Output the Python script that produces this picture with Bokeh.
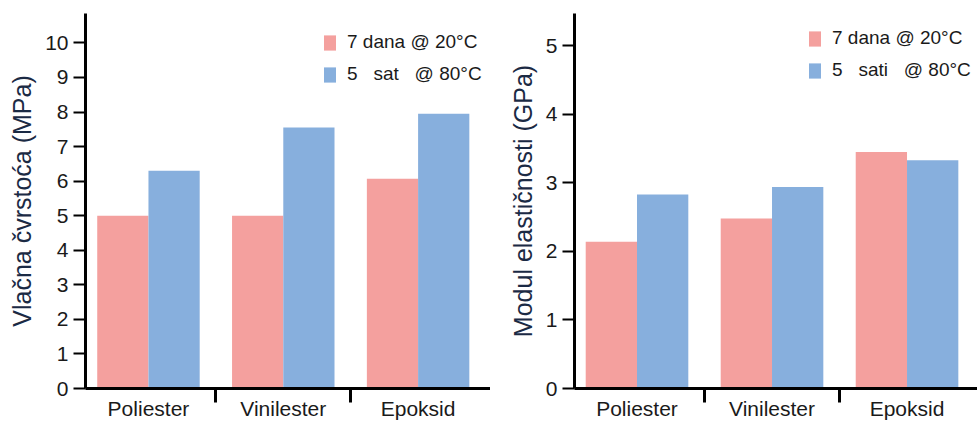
from bokeh.plotting import figure
from bokeh.layouts import row
from bokeh.models import ColumnDataSource, FixedTicker, Range1d, Legend, LegendItem
from bokeh.transform import dodge
from bokeh.embed import file_html
from bokeh.resources import INLINE

# ---- data ----
categories = ["Poliester", "Vinilester", "Epoksid"]
strength_7d = [5.0, 5.0, 6.07]
strength_5h = [6.3, 7.55, 7.95]
modulus_7d = [2.14, 2.48, 3.45]
modulus_5h = [2.83, 2.94, 3.33]
strength_ticks = list(range(0, 11))
modulus_ticks = list(range(0, 6))
legend_left = ["7 dana @ 20°C", "5\u00a0\u00a0\u00a0sat\u00a0\u00a0\u00a0@ 80°C"]
legend_right = ["7 dana @ 20°C", "5\u00a0\u00a0\u00a0sati\u00a0\u00a0\u00a0@ 80°C"]
y_label_left = "Vlačna čvrstoća (MPa)"
y_label_right = "Modul elastičnosti (GPa)"

RED = "#f4a09e"
BLUE = "#87afdd"
FONT = "Liberation Sans"
TXT = "#1a1a1a"


def make(vals_a, vals_b, yticks, ymax, ylabel, labels, width, border_left,
         xr, legend_loc):
    idx = list(range(len(categories)))
    src = ColumnDataSource(dict(x=idx, a=vals_a, b=vals_b))
    p = figure(width=width, height=422, x_range=Range1d(*xr), y_range=Range1d(0, ymax),
               output_backend="svg", toolbar_location=None,
               min_border_left=border_left, min_border_right=0, min_border_top=13,
               min_border_bottom=0)
    p.xgrid.visible = False
    p.ygrid.visible = False
    p.outline_line_color = None
    p.background_fill_color = "white"
    p.border_fill_color = "white"

    r1 = p.vbar(x=dodge("x", -0.19), top="a", width=0.38, source=src,
                fill_color=RED, line_color=None)
    r2 = p.vbar(x=dodge("x", 0.19), top="b", width=0.38, source=src,
                fill_color=BLUE, line_color=None)

    xa = p.xaxis[0]
    xa.ticker = FixedTicker(ticks=idx, minor_ticks=[i + 0.5 for i in idx[:-1]])
    xa.major_label_overrides = {i: c for i, c in zip(idx, categories)}
    xa.major_tick_out = 0
    xa.major_tick_in = 0
    xa.minor_tick_in = 0
    xa.minor_tick_out = 14
    xa.minor_tick_line_width = 3
    xa.minor_tick_line_color = "black"
    xa.axis_line_width = 3
    xa.axis_line_color = "black"
    xa.major_label_text_font = FONT
    xa.major_label_text_font_size = "21px"
    xa.major_label_text_color = TXT
    xa.major_label_standoff = -6

    ya = p.yaxis[0]
    ya.ticker = FixedTicker(ticks=yticks)
    ya.major_tick_out = 12
    ya.major_tick_in = 0
    ya.major_tick_line_width = 2
    ya.major_tick_line_color = "black"
    ya.minor_tick_out = 0
    ya.minor_tick_in = 0
    ya.axis_line_width = 3
    ya.axis_line_color = "black"
    ya.major_label_text_font = FONT
    ya.major_label_text_font_size = "21px"
    ya.major_label_text_color = TXT
    ya.major_label_standoff = 5
    ya.axis_label = ylabel
    ya.axis_label_text_font = FONT
    ya.axis_label_text_font_size = "25px"
    ya.axis_label_text_font_style = "normal"
    ya.axis_label_text_color = "#1b2a44"
    ya.axis_label_standoff = 6

    legend = Legend(items=[LegendItem(label=labels[0], renderers=[r1]),
                           LegendItem(label=labels[1], renderers=[r2])],
                    location=legend_loc, padding=0, margin=0, spacing=10,
                    glyph_width=15, glyph_height=19, label_height=19,
                    label_standoff=10, border_line_color=None,
                    background_fill_alpha=0,
                    label_text_font=FONT, label_text_font_size="19px",
                    label_text_color=TXT)
    p.add_layout(legend)
    return p


left = make(strength_7d, strength_5h, strength_ticks, 10.85, y_label_left, legend_left,
            490, 85, (-0.467, 2.537), (237, 303))
right = make(modulus_7d, modulus_5h, modulus_ticks, 5.47, y_label_right, legend_right,
             487, 84, (-0.463, 2.522), (233, 307))

layout = row(left, right)
open("out.html", "w").write(file_html(layout, INLINE))
